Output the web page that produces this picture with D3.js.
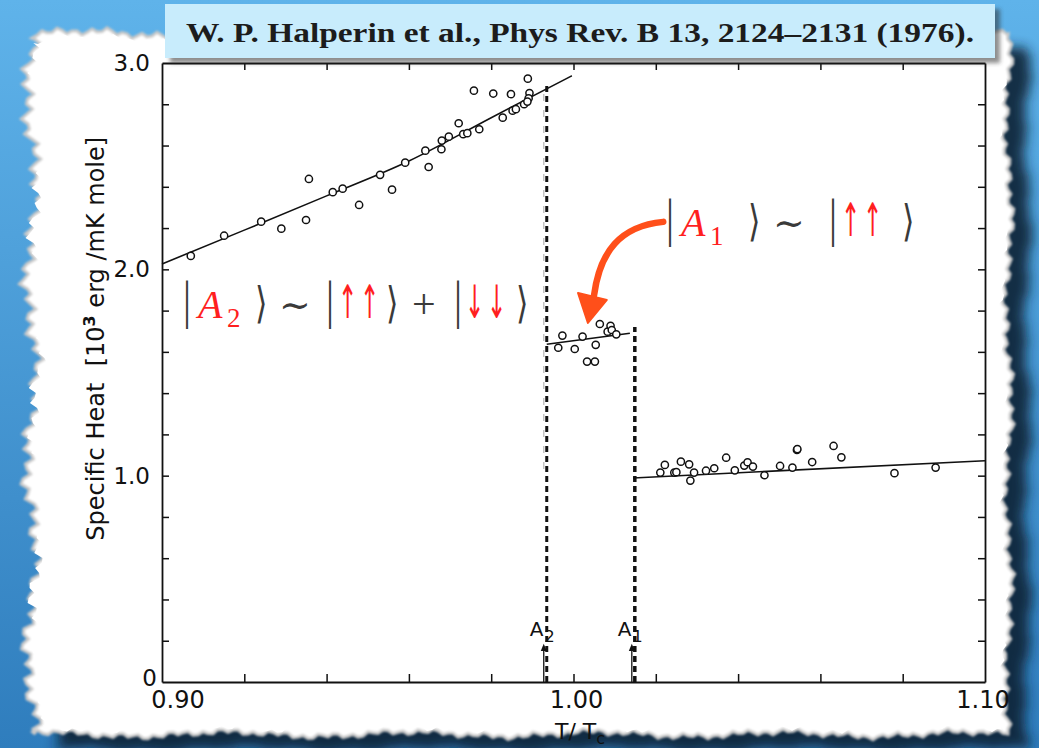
<!DOCTYPE html>
<html>
<head>
<meta charset="utf-8">
<script src="https://cdn.jsdelivr.net/npm/d3@7"></script>
<style>
	body { margin: 0; background: #fff; }
	svg { display: block; }
</style>
</head>
<body>
<svg id="chart" width="1039" height="748"></svg>
<script>
// Halperin et al. 1976, specific heat of 3He across A2 / A1 transitions

// A2 phase (below T_A2)
const A2_T = [0.9070, 0.9151, 0.9241, 0.9290, 0.9350, 0.9357, 0.9415, 0.9439, 0.9479, 0.9530,
	0.9559, 0.9591, 0.9640, 0.9648, 0.9679, 0.9680, 0.9697, 0.9721, 0.9732, 0.9742,
	0.9771, 0.9758, 0.9805, 0.9828, 0.9848, 0.9852, 0.9860, 0.9880, 0.9889, 0.9893, 0.9891, 0.9888];
const A2_C = [2.065, 2.163, 2.231, 2.197, 2.239, 2.438, 2.374, 2.391, 2.312, 2.458,
	2.386, 2.517, 2.575, 2.496, 2.582, 2.624, 2.643, 2.708, 2.655, 2.660,
	2.679, 2.866, 2.852, 2.735, 2.849, 2.769, 2.776, 2.800, 2.924, 2.854, 2.829, 2.813];

// A1 phase (between T_A2 and T_A1)
const A1_T = [0.9963, 0.9973, 1.0003, 1.0022, 1.0033, 1.0052, 1.0054, 1.0064, 1.0083, 1.0090, 1.0093, 1.0104];
const A1_C = [1.620, 1.679, 1.614, 1.674, 1.553, 1.553, 1.634, 1.735, 1.698, 1.726, 1.706, 1.685];

// normal phase (above T_A1)
const N_T = [1.0211, 1.0222, 1.0245, 1.0250, 1.0261, 1.0281, 1.0284, 1.0293, 1.0322, 1.0342, 1.0371,
	1.0392, 1.0415, 1.0423, 1.0436, 1.0464, 1.0502, 1.0532, 1.0543, 1.0544, 1.0580, 1.0632,
	1.0651, 1.0780, 1.0880];
const N_C = [1.015, 1.052, 1.015, 1.017, 1.068, 1.055, 0.976, 1.015, 1.024, 1.036, 1.087,
	1.026, 1.049, 1.065, 1.044, 1.002, 1.047, 1.039, 1.125, 1.129, 1.066, 1.144,
	1.089, 1.012, 1.039];

// fitted curves
const FIT_A2_T = [0.900, 0.920, 0.940, 0.960, 0.980, 0.9996];
const FIT_A2_C = [2.026, 2.190, 2.356, 2.525, 2.735, 2.938];
const FIT_A1_T = [0.9935, 1.0137];
const FIT_A1_C = [1.637, 1.690];
const FIT_N_T = [1.0145, 1.100];
const FIT_N_C = [0.989, 1.072];

// transitions
const T_A2 = 0.9935, T_A2_TOP = 2.90;
const T_A1 = 1.0149, T_A1_TOP = 1.72;

const X_TICKS = [0.92, 0.94, 0.96, 0.98, 1.00, 1.02, 1.04, 1.06, 1.08];
const X_LABELS = [0.90, 1.00, 1.10];
const X_LABEL_TEXT = ['0.90', '1.00', '1.10'];
const Y_TICKS = [0.2, 0.4, 0.6, 0.8, 1.0, 1.2, 1.4, 1.6, 1.8, 2.0, 2.2, 2.4, 2.6, 2.8];
const Y_LABELS = [0, 1, 2, 3];
const Y_LABEL_TEXT = ['0', '1.0', '2.0', '3.0'];

const TITLE = 'W. P. Halperin et al., Phys Rev. B 13, 2124\u20132131 (1976).';

const svg = d3.select('#chart');
const W = 1039, H = 748;

/* ---------- defs ---------- */
const defs = svg.append('defs');
const grad = defs.append('linearGradient').attr('id', 'bg').attr('x1', 0).attr('y1', 0).attr('x2', 0).attr('y2', 1);
grad.append('stop').attr('offset', '0%').attr('stop-color', '#5fb3ea');
grad.append('stop').attr('offset', '100%').attr('stop-color', '#2f7dbd');
defs.append('filter').attr('id', 'blur6').attr('x', '-10%').attr('y', '-10%').attr('width', '120%').attr('height', '120%')
	.append('feGaussianBlur').attr('stdDeviation', 6);
defs.append('filter').attr('id', 'blur2').attr('x', '-20%').attr('y', '-20%').attr('width', '140%').attr('height', '140%')
	.append('feGaussianBlur').attr('stdDeviation', 2);
defs.append('filter').attr('id', 'blur1')
	.append('feGaussianBlur').attr('stdDeviation', 1.2);

/* ---------- background + torn paper ---------- */
svg.append('rect').attr('width', W).attr('height', H).attr('fill', 'url(#bg)');

function jag(i, s) {
	return Math.sin(i * 1.9 + s) * 0.5 + Math.sin(i * 0.61 + s * 2) * 0.35 + Math.sin(i * 0.17 + s * 3) * 0.6;
}
function paperPath(L, T, R, B) {
	const pts = [];
	let i = 0;
	for (let x = L; x < R; x += 5) pts.push([x, T + 5 * jag(i++, 1)]);
	for (let y = T; y < B; y += 5) pts.push([R + 5 * jag(i++, 2), y]);
	for (let x = R; x > L; x -= 5) pts.push([x, B + 4 * jag(i++, 3)]);
	for (let y = B; y > T; y -= 5) pts.push([L + 9 * jag(i++, 4), y]);
	return d3.line()(pts) + 'Z';
}
const paper = paperPath(32, 34, 1008, 734);
svg.append('path').attr('d', paper).attr('fill', '#0e2436').attr('opacity', 0.9)
	.attr('transform', 'translate(20,16)').attr('filter', 'url(#blur6)');
svg.append('path').attr('d', paper).attr('fill', '#ffffff')
	.attr('stroke', '#c9c9c9').attr('stroke-width', 3).attr('filter', 'url(#blur1)');
svg.append('path').attr('d', paperPath(38, 40, 1002, 728)).attr('fill', '#ffffff');

/* ---------- scales ---------- */
const x = d3.scaleLinear().domain([0.90, 1.10]).range([162, 985]);
const y = d3.scaleLinear().domain([0, 3]).range([682, 63]);

/* ---------- axes ---------- */
const axisStyle = g => {
	g.select('.domain').attr('stroke', '#111').attr('stroke-width', 1.8);
	g.selectAll('.tick line').attr('stroke', '#111').attr('stroke-width', 1.5);
	g.selectAll('.tick text').remove();
};
svg.append('g').attr('transform', `translate(0,${y(0)})`)
	.call(d3.axisBottom(x).tickValues(X_TICKS).tickSizeInner(-8).tickSizeOuter(0)).call(axisStyle);
svg.append('g').attr('transform', `translate(0,${y(3)})`)
	.call(d3.axisTop(x).tickValues(X_TICKS).tickSizeInner(-7).tickSizeOuter(0)).call(axisStyle);
svg.append('g').attr('transform', `translate(${x(0.90)},0)`)
	.call(d3.axisLeft(y).tickValues(Y_TICKS).tickSizeInner(-7).tickSizeOuter(0)).call(axisStyle);
svg.append('g').attr('transform', `translate(${x(1.10)},0)`)
	.call(d3.axisRight(y).tickValues(Y_TICKS).tickSizeInner(-7).tickSizeOuter(0)).call(axisStyle);

const labelFont = 'DejaVu Sans, sans-serif';
const xLabelShift = [16, 3, -2];
svg.selectAll('text.xl').data(X_LABELS).enter().append('text')
	.attr('class', 'xl')
	.attr('x', (d, i) => x(d) + xLabelShift[i])
	.attr('y', y(0) + 26)
	.attr('text-anchor', 'middle')
	.style('font-family', labelFont).style('font-size', '24px').attr('fill', '#111')
	.text((d, i) => X_LABEL_TEXT[i]);
svg.selectAll('text.yl').data(Y_LABELS).enter().append('text')
	.attr('class', 'yl')
	.attr('x', d => x(0.90) - (d === 0 ? 5 : 12))
	.attr('y', d => y(d) + (d === 0 ? 4 : 8))
	.attr('text-anchor', 'end')
	.style('font-family', labelFont).style('font-size', '23px').attr('fill', '#111')
	.text((d, i) => Y_LABEL_TEXT[i]);

// axis titles
svg.append('text')
	.attr('transform', `translate(104,${y(0.685)}) rotate(-90)`)
	.style('font-family', labelFont).style('font-size', '24px').attr('fill', '#111')
	.text('Specific Heat');
const yt2 = svg.append('text')
	.attr('transform', `translate(104,${y(1.53)}) rotate(-90)`)
	.style('font-family', labelFont).style('font-size', '24px').attr('fill', '#111');
yt2.append('tspan').text('[10');
yt2.append('tspan').attr('dy', -9).style('font-size', '16px').style('font-weight', 'bold').text('3');
yt2.append('tspan').attr('dy', 9).text(' erg /mK mole]');

const xt = svg.append('text')
	.attr('x', x(0.9955)).attr('y', 739)
	.style('font-family', labelFont).style('font-size', '22px').attr('fill', '#111');
xt.append('tspan').text('T/ T');
xt.append('tspan').attr('dy', 5).style('font-size', '16px').text('c');

/* ---------- transition lines ---------- */
svg.append('line')
	.attr('x1', x(T_A2) - 3).attr('x2', x(T_A2) - 3).attr('y1', y(2.85)).attr('y2', y(1.0))
	.attr('stroke', '#999').attr('stroke-width', 1.4).attr('stroke-dasharray', '7,9').attr('opacity', 0.6);
svg.append('line')
	.attr('x1', x(T_A2)).attr('x2', x(T_A2)).attr('y1', y(0)).attr('y2', y(T_A2_TOP))
	.attr('stroke', '#111').attr('stroke-width', 3).attr('stroke-dasharray', '6,4');
svg.append('line')
	.attr('x1', x(T_A1) + 3).attr('x2', x(T_A1) + 3).attr('y1', y(0)).attr('y2', y(T_A1_TOP))
	.attr('stroke', '#888').attr('stroke-width', 9).attr('stroke-dasharray', '6,4')
	.attr('opacity', 0.6).attr('filter', 'url(#blur2)');
svg.append('line')
	.attr('x1', x(T_A1)).attr('x2', x(T_A1)).attr('y1', y(0)).attr('y2', y(T_A1_TOP))
	.attr('stroke', '#111').attr('stroke-width', 3.5).attr('stroke-dasharray', '6,4');

// little upward arrows + labels at the transitions
[[T_A2, '2'], [T_A1, '1']].forEach(([t, sub]) => {
	const ax = x(t) - 3;
	svg.append('line').attr('x1', ax).attr('x2', ax).attr('y1', y(0)).attr('y2', y(0.16))
		.attr('stroke', '#111').attr('stroke-width', 1.3);
	svg.append('path').attr('d', `M${ax - 3},${y(0.15)} L${ax},${y(0.185)} L${ax + 3},${y(0.15)} Z`).attr('fill', '#111');
	const lt = svg.append('text').attr('x', ax - 14).attr('y', y(0.225))
		.style('font-family', labelFont).style('font-size', '20px').attr('fill', '#111');
	lt.append('tspan').text('A');
	lt.append('tspan').attr('dy', 6).attr('dx', 1).style('font-size', '16px').text(sub);
});

/* ---------- fits ---------- */
const line = d3.line().x(d => x(d[0])).y(d => y(d[1])).curve(d3.curveMonotoneX);
[[FIT_A2_T, FIT_A2_C], [FIT_A1_T, FIT_A1_C], [FIT_N_T, FIT_N_C]].forEach(([ts, cs]) => {
	svg.append('path').datum(d3.zip(ts, cs)).attr('d', line)
		.attr('fill', 'none').attr('stroke', '#111').attr('stroke-width', 1.6);
});

/* ---------- data points ---------- */
const points = d3.zip(A2_T, A2_C).concat(d3.zip(A1_T, A1_C), d3.zip(N_T, N_C));
svg.append('g').selectAll('circle').data(points).enter().append('circle')
	.attr('cx', d => x(d[0]))
	.attr('cy', d => y(d[1]))
	.attr('r', 3.6)
	.attr('fill', '#fff')
	.attr('stroke', '#111')
	.attr('stroke-width', 1.5);

/* ---------- annotations ---------- */
const RED = '#ff1f1f', INK = '#3a3a3a';
const KIND = {
	bar:   { font: 'Liberation Serif, serif', size: 40, sx: 1, sy: 1.3 },
	it:    { font: 'Liberation Serif, serif', size: 40, sx: 1, sy: 1, style: 'italic' },
	sub:   { font: 'Liberation Serif, serif', size: 27, sx: 1, sy: 1, dy: 9 },
	ang:   { font: 'DejaVu Serif, serif', size: 40, sx: 0.8, sy: 1.08 },
	rel:   { font: 'DejaVu Serif, serif', size: 38, sx: 1, sy: 1 },
	arrow: { font: 'DejaVu Sans, sans-serif', size: 40, sx: 0.58, sy: 1.15 },
	plus:  { font: 'Liberation Serif, serif', size: 42, sx: 1, sy: 1 }
};
// pieces: text, offset in px from ket start, colour, kind
function ket(t0, c0, parts) {
	const x0 = x(t0), y0 = y(c0);
	const g = svg.append('g');
	parts.forEach(([txt, o, col, kind]) => {
		const k = KIND[kind];
		g.append('text')
			.attr('transform', `translate(${x0 + o},${y0 + (k.dy || 0)}) scale(${k.sx},${k.sy})`)
			.style('font-family', k.font).style('font-size', k.size + 'px')
			.style('font-style', k.style || 'normal')
			.attr('fill', col).text(txt);
	});
}
ket(0.9051, 1.764, [
	['|', 0, INK, 'bar'], ['A', 15, RED, 'it'], ['2', 44, RED, 'sub'],
	['\u27E9', 72, INK, 'ang'], ['\u223C', 96, INK, 'rel'],
	['|', 143, INK, 'bar'], ['\u2191', 155, RED, 'arrow'], ['\u2191', 177, RED, 'arrow'],
	['\u27E9', 203, INK, 'ang'], ['+', 229, INK, 'plus'],
	['|', 271, INK, 'bar'], ['\u2193', 282, RED, 'arrow'], ['\u2193', 304, RED, 'arrow'],
	['\u27E9', 333, INK, 'ang']
]);
ket(1.0225, 2.162, [
	['|', 0, INK, 'bar'], ['A', 15, RED, 'it'], ['1', 44, RED, 'sub'],
	['\u27E9', 82, INK, 'ang'], ['\u223C', 107, INK, 'rel'],
	['|', 163, INK, 'bar'], ['\u2191', 175, RED, 'arrow'], ['\u2191', 197, RED, 'arrow'],
	['\u27E9', 236, INK, 'ang']
]);

// curved orange arrow (data units)
const ORANGE = '#ff4f1a';
const arrowPath = d3.path();
arrowPath.moveTo(x(1.0218), y(2.230));
arrowPath.bezierCurveTo(x(1.0113), y(2.210), x(1.0064), y(2.084), x(1.0050), y(1.875));
svg.append('path').attr('d', arrowPath.toString())
	.attr('fill', 'none').attr('stroke', ORANGE).attr('stroke-width', 6.5).attr('stroke-linecap', 'round');
svg.append('path')
	.attr('d', `M${x(1.0011)},${y(1.886)} L${x(1.0081)},${y(1.852)} L${x(1.0035)},${y(1.740)} Z`)
	.attr('fill', ORANGE).attr('stroke', ORANGE).attr('stroke-width', 2).attr('stroke-linejoin', 'round');

/* ---------- title box ---------- */
svg.append('rect').attr('x', 170).attr('y', 9).attr('width', 830).attr('height', 54)
	.attr('fill', '#333').attr('opacity', 0.55).attr('filter', 'url(#blur2)');
svg.append('rect').attr('x', 165).attr('y', 4).attr('width', 830).attr('height', 54)
	.attr('fill', '#c8ecfc');
svg.append('text').attr('x', 186).attr('y', 42)
	.style('font-family', 'Liberation Serif, serif').style('font-size', '28px').style('font-weight', 'bold')
	.attr('fill', '#1c1c1c')
	.attr('textLength', 788).attr('lengthAdjust', 'spacingAndGlyphs')
	.text(TITLE);
</script>
</body>
</html>
